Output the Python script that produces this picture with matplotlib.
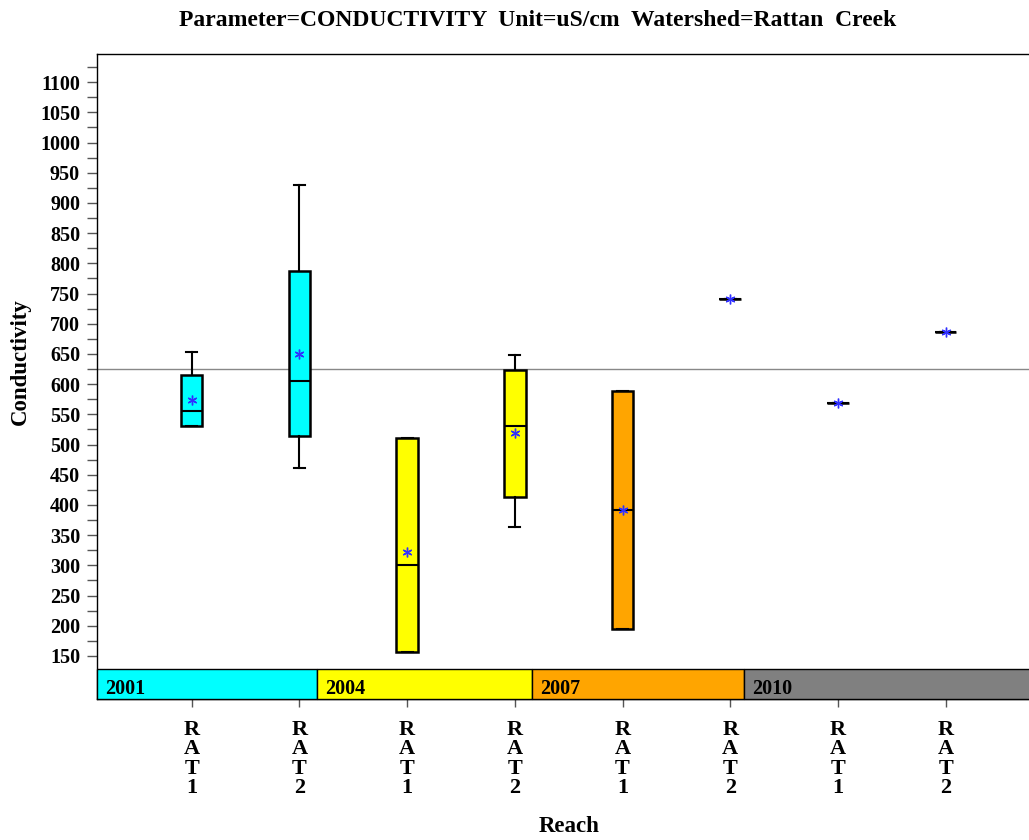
import numpy as np
import matplotlib
matplotlib.use("Agg")
import matplotlib.pyplot as plt
from matplotlib.patches import Rectangle

plt.rcParams['font.family'] = ['Liberation Serif', 'DejaVu Serif']
plt.rcParams['font.weight'] = 'bold'

# datos
years = ['2001', '2001', '2004', '2004', '2007', '2007', '2010', '2010']
reach = ['RAT1', 'RAT2', 'RAT1', 'RAT2', 'RAT1', 'RAT2', 'RAT1', 'RAT2']
whislo = [530, 461, 156, 364, 195, 741, 569, 687]
q1 = [531, 514, 156, 414, 195, 741, 569, 687]
med = [555, 606, 300, 531, 391, 741, 569, 687]
q3 = [615, 788, 511, 623, 588, 741, 569, 687]
whishi = [654, 930, 511, 648, 588, 741, 569, 687]
means = [573, 650, 322, 519, 391, 741, 569, 687]
ref_line = 625

year_names = ['2001', '2004', '2007', '2010']
year_colors = {'2001': '#00FFFF', '2004': '#FFFF00', '2007': '#FFA500', '2010': '#808080'}
# limites de las bandas de anio (posicion en eje x)
band_edges = [-0.882, 1.16, 3.163, 5.13, 7.882]

fig = plt.figure(figsize=(10.29, 8.40), dpi=100)
ax = fig.add_axes([0.094, 0.1679, 0.9173, 0.7675])

pos = np.arange(len(reach))
stats = []
for i in range(len(reach)):
    stats.append({'whislo': whislo[i], 'q1': q1[i], 'med': med[i], 'q3': q3[i],
                  'whishi': whishi[i], 'fliers': []})

bp = ax.bxp(stats, positions=pos, widths=0.2, patch_artist=True, showfliers=False,
            boxprops=dict(edgecolor='black', linewidth=1.8),
            medianprops=dict(color='black', linewidth=1.5),
            whiskerprops=dict(color='black', linewidth=1.5),
            capprops=dict(color='black', linewidth=1.5), capwidths=0.1,
            manage_ticks=False, zorder=3)
for patch, y in zip(bp['boxes'], years):
    patch.set_facecolor(year_colors[y])

ax.plot(pos, means, linestyle='none', marker=(6, 2, 0), markersize=7,
        color='#3030ff', markeredgewidth=1, zorder=5)

ax.axhline(ref_line, color='#888888', linewidth=1, zorder=2)

# banda de anios
trans = ax.get_xaxis_transform()
band_h = 0.046
for j, yname in enumerate(year_names):
    x0 = band_edges[j]
    w = band_edges[j + 1] - x0
    ax.add_patch(Rectangle((x0, 0), w, band_h, transform=trans,
                           facecolor=year_colors[yname], edgecolor='black',
                           linewidth=1, zorder=4, clip_on=False))
    ax.text(x0 + 0.075, 0.007, yname, transform=trans, fontsize=14.5,
            fontweight='bold', va='baseline', ha='left', zorder=6)

ax.set_xlim(band_edges[0], band_edges[-1])
ax.set_ylim(78.8, 1146.2)

ax.set_yticks(np.arange(150, 1101, 50))
ax.set_yticks(np.arange(175, 1126, 50), minor=True)
ax.tick_params(axis='y', which='both', length=7, color='#555555', width=1,
               labelsize=14.5, pad=5)
ax.set_xticks(pos)
ax.set_xticklabels(['\n'.join(list(r)) for r in reach], fontsize=16,
                   linespacing=0.97, va='top')
ax.tick_params(axis='x', length=6, color='#555555', width=1, pad=9)

ax.spines['right'].set_visible(False)
for s in ['left', 'top', 'bottom']:
    ax.spines[s].set_linewidth(1)

fig.text(538 / 1029, 1 - 20 / 840,
         'Parameter=CONDUCTIVITY  Unit=uS/cm  Watershed=Rattan  Creek',
         ha='center', va='center', fontsize=17, fontweight='bold')
fig.text(20 / 1029, 1 - 362 / 840, 'Conductivity', rotation=90,
         ha='center', va='center', fontsize=16.5, fontweight='bold')
fig.text(569 / 1029, 1 - 827 / 840, 'Reach', ha='center', va='center',
         fontsize=16.5, fontweight='bold')

fig.savefig('out.png', dpi=100)
